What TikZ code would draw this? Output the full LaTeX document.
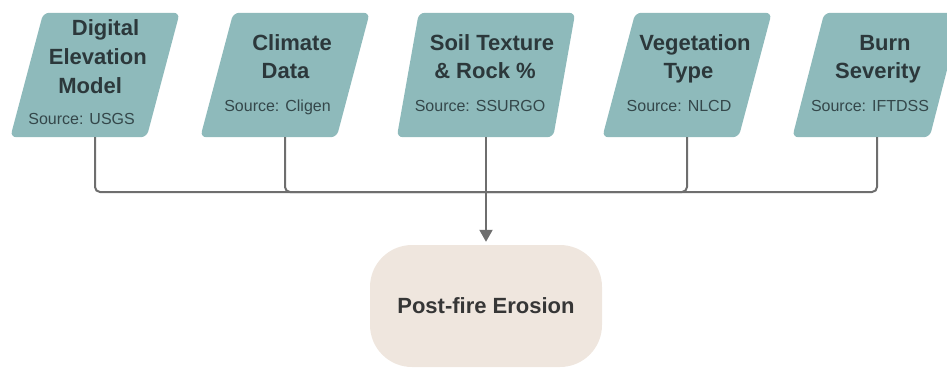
\documentclass[tikz,border=0pt]{standalone}
\usepackage{fontspec}
\setmainfont{Liberation Sans}
\usetikzlibrary{arrows.meta}

\definecolor{inputfill}{HTML}{8EBABB}
\definecolor{titletext}{HTML}{2C383B}
\definecolor{sourcetext}{HTML}{34474A}
\definecolor{resultfill}{HTML}{EFE6DE}
\definecolor{resulttext}{HTML}{363636}
\definecolor{linegray}{HTML}{6E6E6E}

% name, centre x, width, horizontal slant of the sides
\newcommand{\inputbox}[4]{%
  \node[boxframe, minimum width=#3pt] (#1) at (#2,75) {};
  \fill[inputfill, rounded corners=6pt]
    ([xshift=#4*0.5pt]#1.north west) -- ([xshift=#4*0.5pt]#1.north east)
    -- ([xshift=-#4*0.5pt]#1.south east) -- ([xshift=-#4*0.5pt]#1.south west) -- cycle;}

\begin{document}
\begin{tikzpicture}[x=1pt, y=-1pt,
  boxframe/.style={rectangle, minimum height=124pt, inner sep=0pt, draw=none},
  title/.style={anchor=base, inner sep=0pt, text=titletext,
    font=\fontsize{22}{28}\selectfont\bfseries},
  source/.style={anchor=base, inner sep=0pt, text=sourcetext,
    font=\fontsize{16}{18}\selectfont},
  result/.style={rectangle, rounded corners=42pt, fill=resultfill,
    minimum width=232pt, minimum height=122pt, inner sep=0pt,
    text=resulttext, font=\fontsize{22}{26}\selectfont\bfseries},
  link/.style={draw=linegray, line width=2pt, rounded corners=5pt},
  flow/.style={draw=linegray, line width=2pt,
    -{Triangle[width=13pt, length=12pt]}, shorten >=3pt}]

\useasboundingbox (0,0) rectangle (947,370);

% input data boxes
\inputbox{dem}{95}{136}{33}
\inputbox{climate}{285}{136}{33}
\inputbox{soil}{486}{156}{22}
\inputbox{veg}{687}{136}{33}
\inputbox{burn}{877}{137}{32}

\node[title]  (dem-1) at (105.5,35)  {Digital};
\node[title]  (dem-2) at (97.8,64)   {Elevation};
\node[title]  (dem-3) at (90.1,93)   {Model};
\node[source] (dem-s) at (81.6,124)  {Source: USGS};

\node[title]  (climate-1) at (292,50)   {Climate};
\node[title]  (climate-2) at (285.5,78) {Data};
\node[source] (climate-s) at (277.5,111) {Source: Cligen};

\node[title]  (soil-1) at (492,50)  {Soil Texture};
\node[title]  (soil-2) at (485,78)  {\& Rock \%};
\node[source] (soil-s) at (480,111) {Source: SSURGO};

\node[title]  (veg-1) at (695,50)   {Vegetation};
\node[title]  (veg-2) at (688.5,78) {Type};
\node[source] (veg-s) at (679,111)  {Source: NLCD};

\node[title]  (burn-1) at (885,50)   {Burn};
\node[title]  (burn-2) at (878,78)   {Severity};
\node[source] (burn-s) at (870,111)  {Source: IFTDSS};

% result
\node[result] (erosion) at (486,306) {Post-fire Erosion};

% connectors
\coordinate (join) at (486,192);
\draw[link] (dem.south) |- (join);
\draw[link] (climate.south) |- (join);
\draw[link] (veg.south) |- (join);
\draw[link] (burn.south) |- (join);
\draw[link] (soil.south) -- (join);
\draw[flow] (join) -- (erosion.north);
\end{tikzpicture}
\end{document}
